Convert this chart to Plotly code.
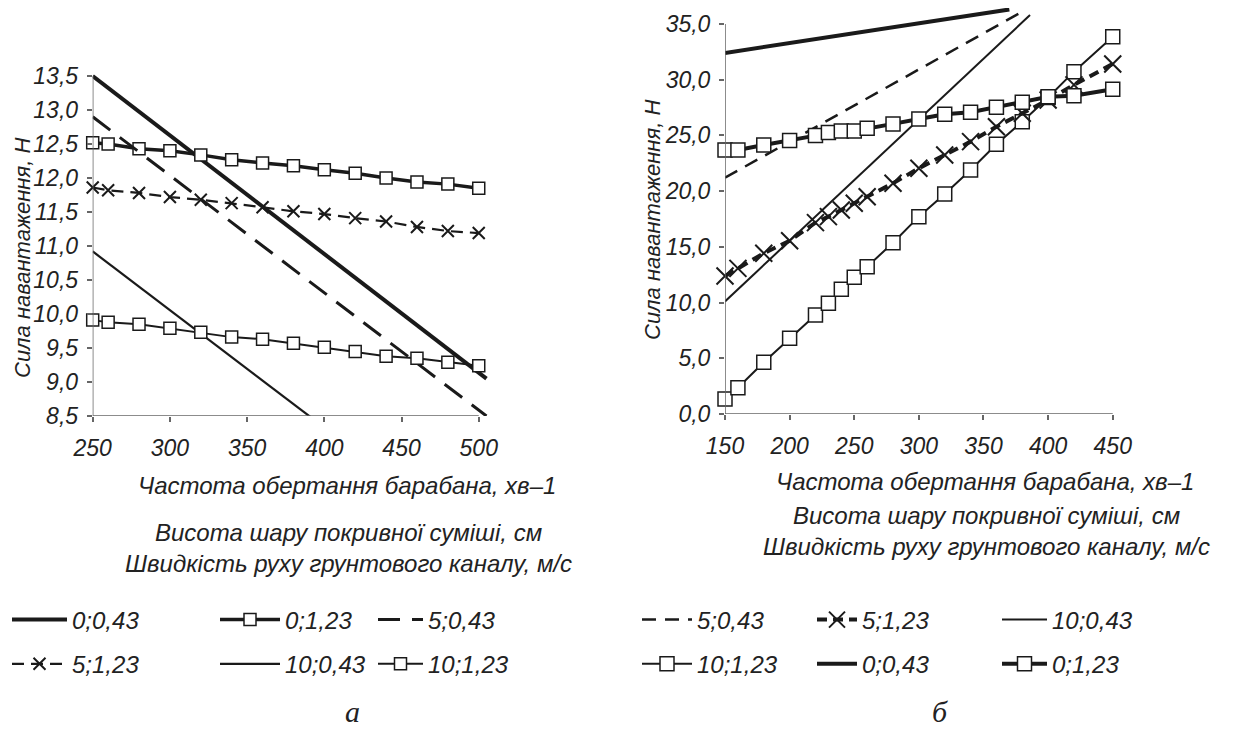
import plotly.graph_objects as go

# ---------------- data: panel "а" ----------------
a_line_x = [250, 505]
a_00_43 = [13.5, 9.05]
a_05_43 = [12.9, 8.5]
a_10_43_x = [250, 396]
a_10_43 = [10.92, 8.4]

a_mx = [250, 260, 280, 300, 320, 340, 360, 380, 400, 420, 440, 460, 480, 500]
a_00_123 = [12.52, 12.50, 12.43, 12.40, 12.34, 12.27, 12.22, 12.18, 12.12, 12.07, 12.00, 11.94, 11.91, 11.85]
a_05_123 = [11.86, 11.82, 11.78, 11.72, 11.68, 11.63, 11.57, 11.51, 11.47, 11.41, 11.36, 11.28, 11.22, 11.19]
a_10_123 = [9.91, 9.88, 9.85, 9.79, 9.73, 9.66, 9.63, 9.57, 9.51, 9.45, 9.38, 9.35, 9.29, 9.24]

# ---------------- data: panel "б" ----------------
b_00_43_x = [150, 370]
b_00_43 = [32.4, 36.3]
b_05_43_x = [150, 380]
b_05_43 = [21.2, 36.1]
b_10_43_x = [150, 386]
b_10_43 = [10.1, 35.8]

b_mx = [150, 160, 180, 200, 220, 230, 240, 250, 260, 280, 300, 320, 340, 360, 380, 400, 420, 450]
b_00_123 = [23.69, 23.69, 24.14, 24.53, 24.98, 25.25, 25.40, 25.40, 25.64, 26.03, 26.47, 26.90, 27.07, 27.52, 27.97, 28.47, 28.56, 29.14]
b_10_123 = [1.35, 2.36, 4.64, 6.79, 8.88, 9.93, 11.19, 12.27, 13.22, 15.37, 17.71, 19.74, 21.90, 24.20, 26.23, 28.40, 30.72, 33.86]
b_05_123 = [12.38, 13.07, 14.42, 15.55, 17.17, 17.71, 18.31, 18.91, 19.50, 20.70, 22.05, 23.24, 24.44, 25.78, 26.98, 28.18, 29.53, 31.41]

a_xticks = [250, 300, 350, 400, 450, 500]
a_yticks = [8.5, 9.0, 9.5, 10.0, 10.5, 11.0, 11.5, 12.0, 12.5, 13.0, 13.5]
b_xticks = [150, 200, 250, 300, 350, 400, 450]
b_yticks = [0, 5, 10, 15, 20, 25, 30, 35]

INK = "#1a1a1a"
FONT = "Liberation Sans"
W, H = 1246, 734
OFF = 8  # page body margin


def PX(x):
    return (x - OFF) / W


def PY(y):
    return (H - (y - OFF)) / H


fig = go.Figure()

sq_a = dict(symbol="square", size=12, color="white", line=dict(color=INK, width=1.5))
sq_b = dict(symbol="square", size=14, color="white", line=dict(color=INK, width=1.5))
x_a = dict(symbol="x-thin", size=12, color=INK, line=dict(color=INK, width=2))
x_b = dict(symbol="x-thin", size=17, color=INK, line=dict(color=INK, width=2))


def add(x, y, name, leg, grp, ax, line, marker=None):
    kw = dict(x=x, y=y, name=name, legend=leg, legendgroup=grp, line=line,
              xaxis="x" if ax == 1 else "x2", yaxis="y" if ax == 1 else "y2")
    if marker is not None:
        kw.update(mode="lines+markers", marker=marker, cliponaxis=False)
    else:
        kw.update(mode="lines")
    fig.add_trace(go.Scatter(**kw))


# panel а : legend columns
add(a_line_x, a_00_43, "0;0,43", "legend", "a1", 1, dict(color=INK, width=4))
add(a_mx, a_05_123, "5;1,23", "legend", "a4", 1, dict(color=INK, width=2.2, dash="12px,7px"), x_a)
add(a_mx, a_00_123, "0;1,23", "legend2", "a2", 1, dict(color=INK, width=3.5), sq_a)
add(a_10_43_x, a_10_43, "10;0,43", "legend2", "a5", 1, dict(color=INK, width=2.2))
add(a_line_x, a_05_43, "5;0,43", "legend3", "a3", 1, dict(color=INK, width=3, dash="22px,12px"))
add(a_mx, a_10_123, "10;1,23", "legend3", "a6", 1, dict(color=INK, width=2), sq_a)

# panel б : legend columns
add(b_05_43_x, b_05_43, "5;0,43", "legend4", "b1", 2, dict(color=INK, width=2.5, dash="14px,9px"))
add(b_mx, b_10_123, "10;1,23", "legend4", "b4", 2, dict(color=INK, width=2), sq_b)
add(b_mx, b_05_123, "5;1,23", "legend5", "b2", 2, dict(color=INK, width=4, dash="10px,6px"), x_b)
add(b_00_43_x, b_00_43, "0;0,43", "legend5", "b5", 2, dict(color=INK, width=4))
add(b_10_43_x, b_10_43, "10;0,43", "legend6", "b3", 2, dict(color=INK, width=2))
add(b_mx, b_00_123, "0;1,23", "legend6", "b6", 2, dict(color=INK, width=4), sq_b)

tickfont = dict(family=FONT, size=23, color="#222", style="italic")
axis_common = dict(showgrid=False, zeroline=False, showline=False, ticks="outside",
                   ticklen=5, tickwidth=1.5, tickcolor="#666", tickfont=tickfont,
                   automargin=False)

legend_common = dict(orientation="v", font=dict(family=FONT, size=24, color="#222", style="italic"),
                     bgcolor="rgba(0,0,0,0)", tracegroupgap=10,
                     yanchor="middle", xanchor="left", traceorder="grouped")

LEG_Y = PY(642)
fig.update_layout(
    width=W, height=H, margin=dict(l=0, r=0, t=0, b=0, autoexpand=False),
    paper_bgcolor="white", plot_bgcolor="white",
    separators=", ",
    xaxis=dict(domain=[PX(92.7), PX(488)], range=[250, 506], tickvals=a_xticks,
               ticklabelstandoff=6, anchor="y", **axis_common),
    yaxis=dict(domain=[PY(416), PY(69.2)], range=[8.5, 13.6], tickvals=a_yticks,
               tickformat=".1f", ticklabelstandoff=4, anchor="x", **axis_common),
    xaxis2=dict(domain=[PX(725), PX(1119.2)], range=[150, 455], tickvals=b_xticks,
                ticklabelstandoff=6, anchor="y2", **axis_common),
    yaxis2=dict(domain=[PY(414), 1.0], range=[0, 36.43], tickvals=b_yticks,
                tickformat=".1f", ticklabelstandoff=4, anchor="x2", **axis_common),
    legend=dict(x=PX(7), y=LEG_Y, itemwidth=55, **legend_common),
    legend2=dict(x=PX(215), y=LEG_Y, itemwidth=60, **legend_common),
    legend3=dict(x=PX(373), y=LEG_Y, itemwidth=45, **legend_common),
    legend4=dict(x=PX(637), y=LEG_Y, itemwidth=50, **legend_common),
    legend5=dict(x=PX(812), y=LEG_Y, itemwidth=40, **legend_common),
    legend6=dict(x=PX(997), y=LEG_Y, itemwidth=45, **legend_common),
    showlegend=True,
)

# axis lines (only over the labelled span)
axcol = "#666"
fig.add_shape(type="line", xref="x", yref="y", x0=250, x1=500, y0=8.5, y1=8.5,
              line=dict(color=axcol, width=1.5))
fig.add_shape(type="line", xref="x", yref="y", x0=250, x1=250, y0=8.5, y1=13.5,
              line=dict(color=axcol, width=1.5))
fig.add_shape(type="line", xref="x2", yref="y2", x0=150, x1=450, y0=0, y1=0,
              line=dict(color=axcol, width=1.5))
fig.add_shape(type="line", xref="x2", yref="y2", x0=150, x1=150, y0=0, y1=35,
              line=dict(color=axcol, width=1.5))

tfont = dict(family=FONT, size=24, color="#222", style="italic")
yfont = dict(family=FONT, size=22, color="#222", style="italic")
ann = [
    dict(text="Сила навантаження, Н", x=PX(22), y=PY(258), textangle=-90, font=yfont),
    dict(text="Сила навантаження, Н", x=PX(652), y=PY(220), textangle=-90, font=yfont),
    dict(text="Частота обертання барабана, хв–1", x=PX(347), y=PY(486), font=tfont),
    dict(text="Частота обертання барабана, хв–1", x=PX(985), y=PY(481), font=tfont),
    dict(text="Висота шару покривної суміші, см<br>Швидкість руху грунтового каналу, м/с",
         x=PX(348), y=PY(548), font=tfont),
    dict(text="Висота шару покривної суміші, см<br>Швидкість руху грунтового каналу, м/с",
         x=PX(986), y=PY(531), font=tfont),
]
for a in ann:
    fig.add_annotation(xref="paper", yref="paper", showarrow=False, xanchor="center",
                       yanchor="middle", **a)
sfont = dict(family="Liberation Serif", size=30, color="#222", style="italic")
fig.add_annotation(text="а", x=PX(352), y=PY(711), xref="paper", yref="paper",
                   showarrow=False, font=sfont, xanchor="center", yanchor="middle")
fig.add_annotation(text="б", x=PX(940), y=PY(711), xref="paper", yref="paper",
                   showarrow=False, font=sfont, xanchor="center", yanchor="middle")

fig.write_html("out.html")
